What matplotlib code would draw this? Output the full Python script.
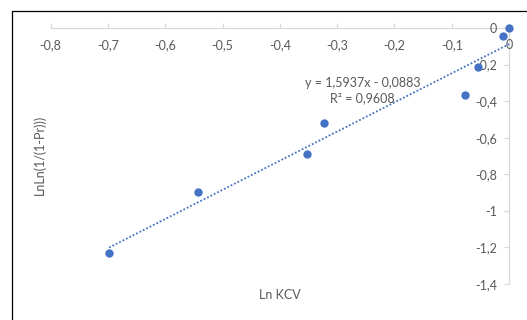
import matplotlib
matplotlib.use("Agg")
import matplotlib.pyplot as plt
from matplotlib.patches import Rectangle
import numpy as np

# Measured values
ln_kcv = [-0.698, -0.542, -0.353, -0.323, -0.077, -0.054, -0.010, 0.0]
lnln_pr = [-1.232, -0.898, -0.687, -0.519, -0.365, -0.216, -0.042, 0.0]

# Linear trend fitted to the data
slope = 1.5937
intercept = -0.0883
r_squared = 0.9608

x_ticks = [-0.8, -0.7, -0.6, -0.5, -0.4, -0.3, -0.2, -0.1, 0.0]
x_tick_labels = ["-0,8", "-0,7", "-0,6", "-0,5", "-0,4", "-0,3", "-0,2", "-0,1", "0"]
y_ticks = [0.0, -0.2, -0.4, -0.6, -0.8, -1.0, -1.2, -1.4]
y_tick_labels = ["0", "-0,2", "-0,4", "-0,6", "-0,8", "-1", "-1,2", "-1,4"]

blue = "#4472C4"
text_grey = "#595959"
axis_grey = "#D9D9D9"
fs = 9

plt.rcParams["font.family"] = ["Lato", "DejaVu Sans"]

W, H = 527, 320
fig = plt.figure(figsize=(W / 100, H / 100), dpi=100)
ax = fig.add_axes([50.6 / W, 1 - 284 / H, (509 - 50.6) / W, (284 - 28) / H])

ax.set_xlim(-0.8, 0.0)
ax.set_ylim(-1.4, 0.0)

# Axes cross at the origin: x axis along y=0, y axis along x=0
ax.spines["left"].set_position(("data", 0))
ax.spines["bottom"].set_position(("data", 0))
ax.spines["top"].set_visible(False)
ax.spines["right"].set_visible(False)
for s in ("left", "bottom"):
    ax.spines[s].set_color(axis_grey)
    ax.spines[s].set_linewidth(0.9)
    ax.spines[s].set_zorder(1)

ax.set_xticks(x_ticks)
ax.set_xticklabels(x_tick_labels)
ax.set_yticks(y_ticks)
ax.set_yticklabels(y_tick_labels)
ax.tick_params(axis="x", direction="in", length=3.5, width=0.9, color=axis_grey,
               labelcolor=text_grey, labelsize=fs, pad=8)
ax.tick_params(axis="y", direction="out", length=3.5, width=0.9, color=axis_grey,
               labelcolor=text_grey, labelsize=fs, pad=5)

# Trend line over the span of the data
xs = np.array([min(ln_kcv), max(ln_kcv)])
ax.plot(xs, slope * xs + intercept, color=blue, lw=1.3,
        linestyle=(0, (1, 1.1)), zorder=2, clip_on=False)

ax.scatter(ln_kcv, lnln_pr, s=36, color=blue, zorder=3, clip_on=False,
           linewidths=0)

eq = "y = {:.4f}x - {:.4f}\nR² = {:.4f}".format(slope, -intercept, r_squared)
fig.text(362.5 / W, 1 - 90.5 / H, eq.replace(".", ","), fontsize=fs,
         color=text_grey, ha="center", va="center", multialignment="center",
         linespacing=1.3)

fig.text(280 / W, 1 - 295 / H, "Ln KCV", ha="center", va="center",
         fontsize=fs, color=text_grey)
fig.text(40 / W, 1 - 155 / H, "LnLn(1/(1-Pr)))", ha="center", va="center",
         rotation=90, fontsize=fs, color=text_grey)

# Chart frame
fig.add_artist(Rectangle((12 / W, -0.2), 1.5, 1.2 - 11 / H,
                         transform=fig.transFigure, fill=False,
                         edgecolor="black", lw=0.9))

fig.savefig("out.png", dpi=100)
